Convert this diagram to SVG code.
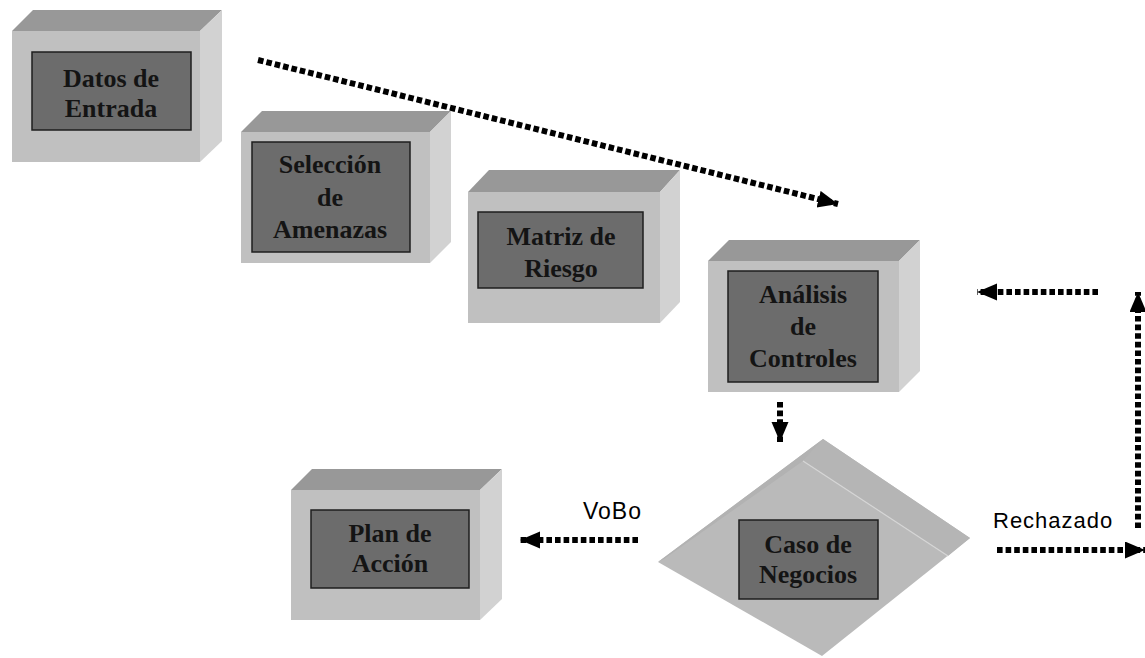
<svg xmlns="http://www.w3.org/2000/svg" width="1145" height="658" viewBox="0 0 1145 658">
<defs>
<style>
.top{fill:#989898}
.side{fill:#d2d2d2}
.front{fill:#c0c0c0}
.inner{fill:#6c6c6c;stroke:#1e1e1e;stroke-width:1.5}
.lbl{font-family:"Liberation Serif","Times New Roman",serif;font-weight:bold;font-size:26px;fill:#141414;text-anchor:middle}
.cl{font-family:"Liberation Sans",Arial,sans-serif;font-size:22px;fill:#000;letter-spacing:1px}
.arr{fill:none;stroke:#000;stroke-width:6;stroke-dasharray:5.6 3}
</style>
<marker id="ah" markerUnits="userSpaceOnUse" markerWidth="22" markerHeight="20" refX="20" refY="8.5" orient="auto">
<path d="M0,0 L20,8.5 L0,17 z" fill="#000"/>
</marker>
</defs>
<rect width="1145" height="658" fill="#fff"/>

<g id="datos">
<polygon class="top" points="12,31 33,10 222,10 200,31"/>
<polygon class="side" points="200,31 222,10 222,141 200,162"/>
<rect class="front" x="12" y="31" width="188" height="131"/>
<rect class="inner" x="32" y="52" width="159" height="78"/>
<text class="lbl" x="111" y="87">Datos de</text>
<text class="lbl" x="111" y="117">Entrada</text>
</g>

<g id="seleccion">
<polygon class="top" points="241,132 262,111 451,111 430,132"/>
<polygon class="side" points="430,132 451,111 451,242 430,263"/>
<rect class="front" x="241" y="132" width="189" height="131"/>
<rect class="inner" x="252" y="142" width="158" height="110"/>
<text class="lbl" x="330" y="173">Selección</text>
<text class="lbl" x="330" y="206">de</text>
<text class="lbl" x="330" y="238">Amenazas</text>
</g>

<g id="matriz">
<polygon class="top" points="468,192 489,170 680,170 660,192"/>
<polygon class="side" points="660,192 680,170 680,302 660,323"/>
<rect class="front" x="468" y="192" width="192" height="131"/>
<rect class="inner" x="478" y="212" width="165" height="76"/>
<text class="lbl" x="561" y="245">Matriz de</text>
<text class="lbl" x="561" y="277">Riesgo</text>
</g>

<g id="analisis">
<polygon class="top" points="708,261 729,240 920,240 899,261"/>
<polygon class="side" points="899,261 920,240 920,371 899,392"/>
<rect class="front" x="708" y="261" width="191" height="131"/>
<rect class="inner" x="728" y="271" width="150" height="111"/>
<text class="lbl" x="803" y="303">Análisis</text>
<text class="lbl" x="803" y="335">de</text>
<text class="lbl" x="803" y="367">Controles</text>
</g>

<g id="plan">
<polygon class="top" points="291,490 312,469 502,469 480,490"/>
<polygon class="side" points="480,490 502,469 502,599 480,620"/>
<rect class="front" x="291" y="490" width="189" height="130"/>
<rect class="inner" x="311" y="510" width="158" height="78"/>
<text class="lbl" x="390" y="542">Plan de</text>
<text class="lbl" x="390" y="572">Acción</text>
</g>

<g id="caso">
<polygon fill="#bababa" points="823,439 970,538 822,656 658,562"/>
<polygon fill="#b5b5b5" points="823,439 970,538 948,556 803,461"/>
<polygon fill="#b2b2b2" points="658,562 823,439 803,461 664,559"/>
<line x1="803" y1="461" x2="948" y2="556" stroke="#d6d6d6" stroke-width="1.2"/>
<rect class="inner" x="739" y="520" width="139" height="79"/>
<text class="lbl" x="808" y="553">Caso de</text>
<text class="lbl" x="808" y="583">Negocios</text>
</g>

<g id="connectors">
<path class="arr" d="M258,60 L838,204" marker-end="url(#ah)"/>
<path class="arr" d="M780,402 L780,442" marker-end="url(#ah)"/>
<path class="arr" d="M638,540 L520,540" marker-end="url(#ah)"/>
<path class="arr" d="M997,550 L1145,550" marker-end="url(#ah)"/>
<path class="arr" d="M1138,528 L1138,292" marker-end="url(#ah)"/>
<path class="arr" d="M1098,292 L977,292" marker-end="url(#ah)"/>
<text class="cl" x="583" y="519" style="font-size:23px">VoBo</text>
<text class="cl" x="993" y="528">Rechazado</text>
</g>
</svg>
